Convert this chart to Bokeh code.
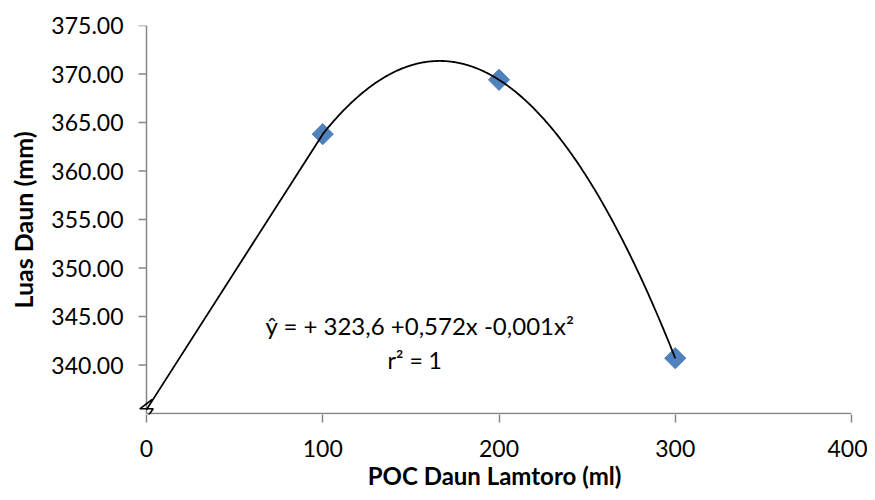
import numpy as np
from bokeh.plotting import figure
from bokeh.models import Range1d, FixedTicker, NumeralTickFormatter, Label
from bokeh.embed import file_html
from bokeh.resources import INLINE

# ---- data ----
dose = [100, 200, 300]              # POC Daun Lamtoro (ml)
leaf_area = [363.8, 369.4, 340.7]   # Luas Daun (mm)
start_x = 0
start_y = 335.4
x_ticks = [0, 100, 200, 300, 400]
y_ticks = [340, 345, 350, 355, 360, 365, 370, 375]
y_axis_min = 335
equation = "ŷ = + 323,6 +0,572x -0,001x²"
r2_text = "r² = 1"
x_title = "POC Daun Lamtoro (ml)"
y_title = "Luas Daun (mm)"

FONT = "Lato"
AXIS_GRAY = "#868686"
BLUE = "#4F81BD"

# pixel scale of the frame (px per data unit), used for axis decorations
PX_X = 705 / 400.0
PX_Y = 388 / 40.0

coef = np.polyfit(dose, leaf_area, 2)
xs_curve = np.linspace(dose[0], dose[-1], 300)
ys_curve = np.polyval(coef, xs_curve)
line_x = [start_x] + list(xs_curve)
line_y = [start_y] + list(ys_curve)

x_lo = x_ticks[0] - 9 / PX_X
y_lo = y_axis_min - 1 / PX_Y

p = figure(width=867, height=492, output_backend="svg", toolbar_location=None,
           x_range=Range1d(x_lo, x_ticks[-1]), y_range=Range1d(y_lo, y_ticks[-1]),
           min_border_left=137, min_border_right=16, min_border_top=25, min_border_bottom=78)
p.outline_line_color = None
p.xgrid.grid_line_color = None
p.ygrid.grid_line_color = None
p.background_fill_color = "white"
p.border_fill_color = "white"

for ax in (p.xaxis, p.yaxis):
    ax.axis_line_color = None
    ax.major_tick_in = 0
    ax.minor_tick_line_color = None
    ax.major_label_text_font = FONT
    ax.major_label_text_font_size = "23px"
    ax.major_label_text_color = "black"
    ax.axis_label_text_font = FONT
    ax.axis_label_text_font_style = "bold"
    ax.axis_label_text_color = "black"

p.xaxis.major_tick_line_color = AXIS_GRAY
p.xaxis.major_tick_line_width = 1.5
p.xaxis.major_tick_out = 8
p.yaxis.major_tick_line_color = None
p.yaxis.major_tick_out = 0

p.xaxis.ticker = FixedTicker(ticks=x_ticks)
p.yaxis.ticker = FixedTicker(ticks=y_ticks)
p.yaxis.formatter = NumeralTickFormatter(format="0.00")
p.xaxis.major_label_standoff = 17
p.yaxis.major_label_standoff = 14
p.xaxis.axis_label = x_title
p.yaxis.axis_label = y_title
p.xaxis.axis_label_text_font_size = "24px"
p.yaxis.axis_label_text_font_size = "25px"
p.xaxis.axis_label_standoff = 1
p.yaxis.axis_label_standoff = 10

# drawn axis lines and y ticks (start at x = 0 / y = 335 as in the reference)
p.segment(x0=[x_ticks[0]], y0=[y_axis_min], x1=[x_ticks[-1]], y1=[y_axis_min],
          line_color=AXIS_GRAY, line_width=1.5)
p.segment(x0=[x_ticks[0]], y0=[y_axis_min], x1=[x_ticks[0]], y1=[y_ticks[-1]],
          line_color=AXIS_GRAY, line_width=1.5)
p.segment(x0=[x_ticks[0] - 8 / PX_X] * len(y_ticks), y0=y_ticks,
          x1=[x_ticks[0]] * len(y_ticks), y1=y_ticks,
          line_color=AXIS_GRAY, line_width=1.5)

p.scatter(dose, leaf_area, marker="square", size=15, angle=np.pi / 4,
          fill_color=BLUE, line_color=BLUE)
p.line(line_x, line_y, line_color="black", line_width=1.8)

# axis break symbol (zigzag on the y axis)
brk_dx = [5.7, -6.7, 6.7, 0.7]
brk_dy = [-14, -4.7, -4.7, 3.7]
p.line([x_ticks[0] + d / PX_X for d in brk_dx], [y_axis_min - d / PX_Y for d in brk_dy],
       line_color="black", line_width=1.6)

# trendline annotation
p.add_layout(Label(x=67.5, y=344.06, text=equation, text_font=FONT, text_font_size="24px",
                   text_color="black", text_baseline="middle", text_align="left"))
p.add_layout(Label(x=136.7, y=340.5, text=r2_text, text_font=FONT, text_font_size="23px",
                   text_color="black", text_baseline="middle", text_align="left"))

open("out.html", "w").write(file_html(p, INLINE))
